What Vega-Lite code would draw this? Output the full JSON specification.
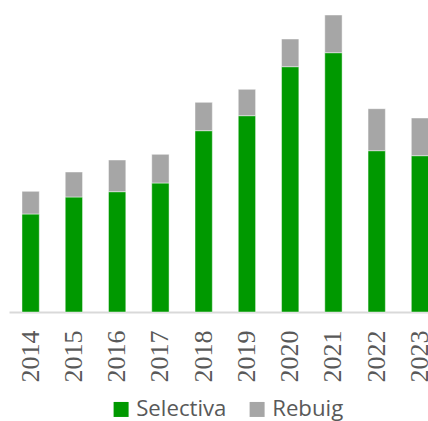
{
  "$schema": "https://vega.github.io/schema/vega-lite/v6.json",
  "autosize": {"type": "none"},
  "width": 419,
  "height": 300,
  "padding": {"left": 9, "top": 12, "right": 0, "bottom": 109},
  "background": "white",
  "config": {"view": {"stroke": null}},
  "data": {
    "values": [
      {"year": "2014", "tipus": "Selectiva", "ord": 1, "valor": 98},
      {"year": "2014", "tipus": "Rebuig", "ord": 2, "valor": 22.7},
      {"year": "2015", "tipus": "Selectiva", "ord": 1, "valor": 115},
      {"year": "2015", "tipus": "Rebuig", "ord": 2, "valor": 25},
      {"year": "2016", "tipus": "Selectiva", "ord": 1, "valor": 120.3},
      {"year": "2016", "tipus": "Rebuig", "ord": 2, "valor": 31.7},
      {"year": "2017", "tipus": "Selectiva", "ord": 1, "valor": 129},
      {"year": "2017", "tipus": "Rebuig", "ord": 2, "valor": 28.7},
      {"year": "2018", "tipus": "Selectiva", "ord": 1, "valor": 181.3},
      {"year": "2018", "tipus": "Rebuig", "ord": 2, "valor": 28.4},
      {"year": "2019", "tipus": "Selectiva", "ord": 1, "valor": 196.3},
      {"year": "2019", "tipus": "Rebuig", "ord": 2, "valor": 26.4},
      {"year": "2020", "tipus": "Selectiva", "ord": 1, "valor": 245.3},
      {"year": "2020", "tipus": "Rebuig", "ord": 2, "valor": 27.7},
      {"year": "2021", "tipus": "Selectiva", "ord": 1, "valor": 259.3},
      {"year": "2021", "tipus": "Rebuig", "ord": 2, "valor": 37.7},
      {"year": "2022", "tipus": "Selectiva", "ord": 1, "valor": 161.3},
      {"year": "2022", "tipus": "Rebuig", "ord": 2, "valor": 42},
      {"year": "2023", "tipus": "Selectiva", "ord": 1, "valor": 156.3},
      {"year": "2023", "tipus": "Rebuig", "ord": 2, "valor": 37.7}
    ]
  },
  "mark": {"type": "bar", "stroke": "#ffffff", "strokeWidth": 0.75, "strokeOpacity": 0.6},
  "encoding": {
    "x": {
      "field": "year",
      "type": "nominal",
      "scale": {"range": [0, 432.6], "paddingInner": 0.6, "paddingOuter": 0.3},
      "axis": {
        "title": null,
        "labelAngle": -90,
        "labelAlign": "right",
        "labelBaseline": "middle",
        "labelFont": "Liberation Sans Narrow",
        "labelFontSize": 26,
        "labelColor": "#595959",
        "labelPadding": 18,
        "ticks": false,
        "domainColor": "#d9d9d9",
        "domainWidth": 2,
        "grid": false
      }
    },
    "y": {
      "field": "valor",
      "type": "quantitative",
      "stack": "zero",
      "scale": {"domain": [0, 300], "nice": false},
      "axis": null
    },
    "order": {"field": "ord", "type": "quantitative"},
    "color": {
      "field": "tipus",
      "type": "nominal",
      "scale": {"domain": ["Selectiva", "Rebuig"], "range": ["#009900", "#a6a6a6"]},
      "legend": {
        "title": null,
        "orient": "none",
        "direction": "horizontal",
        "legendX": 101,
        "legendY": 386,
        "padding": 0,
        "symbolType": "square",
        "symbolSize": 225,
        "symbolStrokeWidth": 0,
        "symbolOpacity": 1,
        "labelFont": "Open Sans",
        "labelFontSize": 22.2,
        "labelColor": "#595959",
        "labelOffset": 4,
        "columnPadding": 19,
        "labelLimit": 300
      }
    }
  }
}
